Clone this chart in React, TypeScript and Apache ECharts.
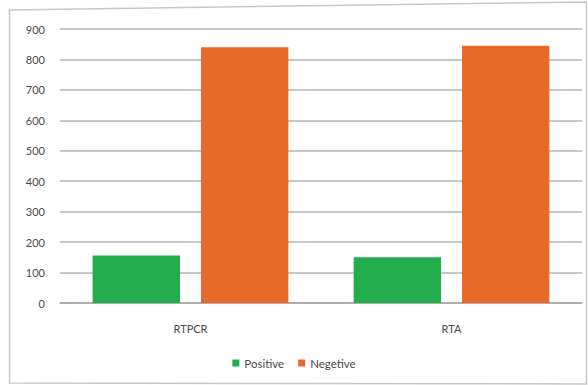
import React, { useEffect, useRef } from "react";
import * as echarts from "echarts";

const categories = ["RTPCR", "RTA"];
const positiveValues = [156, 150];
const negativeValues = [840, 845];
const seriesNames = ["Positive", "Negetive"];

export default function App() {
  const ref = useRef<HTMLDivElement>(null);
  useEffect(() => {
    const chart = echarts.init(ref.current!, null, { renderer: "svg" });
    const font = "Lato, 'Open Sans', sans-serif";
    chart.setOption({
      animation: false,
      backgroundColor: "#ffffff",
      grid: { left: 60, right: 6, top: 29, bottom: 82, containLabel: false },
      legend: {
        data: seriesNames,
        bottom: 11,
        left: "center",
        itemWidth: 7,
        itemHeight: 7,
        itemGap: 14,
        icon: "rect",
        textStyle: { color: "#4a4a4a", fontSize: 11.5, fontFamily: font },
      },
      xAxis: {
        type: "category",
        data: categories,
        axisLine: { show: true, lineStyle: { color: "#a6a6a6", width: 1.5 } },
        axisTick: { show: false },
        axisLabel: { color: "#4a4a4a", fontSize: 11, fontFamily: font, margin: 20 },
      },
      yAxis: {
        type: "value",
        min: 0,
        max: 900,
        interval: 100,
        axisLine: { show: false },
        axisTick: { show: false },
        axisLabel: { color: "#4a4a4a", fontSize: 11, fontFamily: font, margin: 15 },
        splitLine: { lineStyle: { color: "#b5b5b5", width: 1.5 } },
      },
      series: [
        {
          name: seriesNames[0],
          type: "bar",
          data: positiveValues,
          itemStyle: { color: "#23ad4c" },
          barGap: "24%",
          barCategoryGap: "25%",
        },
        {
          name: seriesNames[1],
          type: "bar",
          data: negativeValues,
          itemStyle: { color: "#e8692a" },
        },
      ],
      graphic: [
        {
          type: "polygon",
          shape: { points: [[9.5, 10], [586.5, 2], [586.5, 384], [9.5, 383]] },
          style: { fill: "none", stroke: "#c8c8c8", lineWidth: 1.5 },
          silent: true,
        },
      ],
    });
    return () => chart.dispose();
  }, []);
  return (
    <div
      ref={ref}
      style={{ position: "absolute", left: 0, top: 0, width: 588, height: 385 }}
    />
  );
}
